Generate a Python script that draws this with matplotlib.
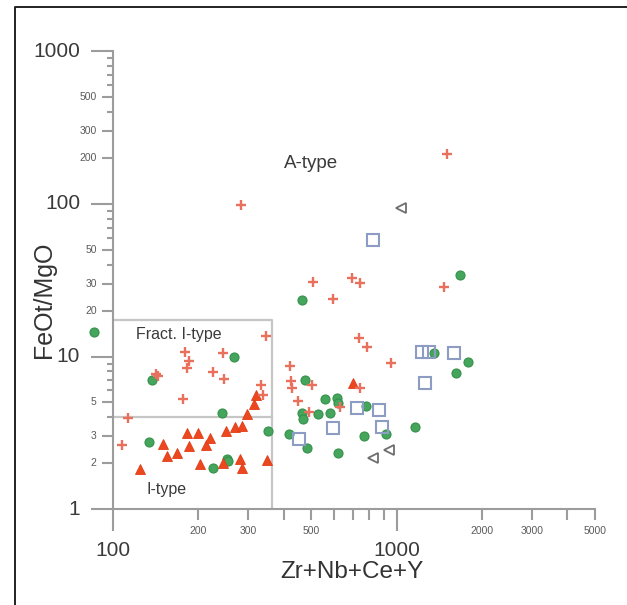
import matplotlib
matplotlib.use("Agg")
import matplotlib.pyplot as plt
from matplotlib.markers import TICKLEFT, TICKDOWN
from matplotlib.lines import Line2D
from matplotlib.ticker import NullLocator

plt.rcParams['font.family'] = ['Liberation Sans', 'DejaVu Sans']

# Zr+Nb+Ce+Y (ppm) vs FeOt/MgO, one pair of lists per sample group
cross_x = [347, 180, 186, 183, 245, 226, 247, 144, 142, 177, 333, 339, 113, 108,
           283, 1502, 509, 699, 746, 1466, 599, 740, 790, 422, 960, 426, 429, 505,
           451, 634, 493, 746]
cross_y = [13.7, 10.7, 9.4, 8.4, 10.6, 7.9, 7.1, 7.5, 7.7, 5.3, 6.5, 5.6, 3.96, 2.63,
           99, 211, 30.9, 32.9, 30.5, 28.7, 23.9, 13.3, 11.6, 8.7, 9.1, 6.9, 6.2, 6.5,
           5.1, 4.67, 4.34, 6.2]

green_x = [86, 268, 138, 243, 353, 134, 226, 253, 255,
           465, 1670, 419, 477, 465, 469, 530, 561, 619, 624, 585, 783, 915, 1158,
           765, 485, 624, 1351, 1782, 1616]
green_y = [14.5, 9.95, 7.0, 4.27, 3.25, 2.75, 1.86, 2.13, 2.07,
           23.6, 34.4, 3.11, 7.0, 4.27, 3.9, 4.21, 5.28, 5.36, 4.97, 4.27, 4.75, 3.11,
           3.46, 3.01, 2.52, 2.33, 10.6, 9.2, 7.8]

tri_x = [125, 150, 155, 168, 183, 200, 186, 203, 213, 220, 245, 251, 270, 286, 281,
         286, 298, 315, 320, 350, 705]
tri_y = [1.83, 2.67, 2.23, 2.33, 3.16, 3.16, 2.59, 1.97, 2.63, 2.93, 2.0, 3.25, 3.46,
         3.51, 2.13, 1.86, 4.21, 4.89, 5.6, 2.1, 6.7]

square_x = [829, 1226, 1297, 1590, 1256, 728, 871, 599, 892, 454]
square_y = [58.4, 10.7, 10.7, 10.6, 6.7, 4.6, 4.47, 3.4, 3.46, 2.88]

left_x = [1033, 829, 937]
left_y = [94.7, 2.16, 2.44]

# field boundaries
zr_limit = 365
fe_upper = 17.3
fe_lower = 4

fig = plt.figure(figsize=(6.27, 6.05), dpi=100)
ax = fig.add_axes([0.136, 0.106, 0.835, 0.838])
ax.set_xscale('log')
ax.set_yscale('log')
ax.set_xlim(80, 5600)
ax.set_ylim(0.62, 1300)

axis_col = '#9c9c9c'
for side in ['top', 'right']:
    ax.spines[side].set_visible(False)
ax.spines['left'].set_position(('data', 100))
ax.spines['bottom'].set_position(('data', 1))
ax.spines['left'].set_bounds(1, 1000)
ax.spines['bottom'].set_bounds(100, 5000)
for side in ['left', 'bottom']:
    ax.spines[side].set_color(axis_col)
    ax.spines[side].set_linewidth(1.5)
for axis in [ax.xaxis, ax.yaxis]:
    axis.set_major_locator(NullLocator())
    axis.set_minor_locator(NullLocator())

# ticks drawn as tick markers so three different lengths are possible
decades_y = [1, 10, 100]
y_major = [1, 10, 100, 1000]
y_minor_lab = [m * d for d in decades_y for m in (2, 3, 5)]
y_minor = [m * d for d in decades_y for m in (4, 6, 7, 8, 9)]
x_major = [100, 1000]
x_minor_lab = [200, 300, 500, 2000, 3000, 5000]
x_minor = [400, 600, 700, 800, 900, 4000]

tick_kw = dict(ls='none', color=axis_col, mew=1.5, clip_on=False)
ax.plot([100] * len(y_major), y_major, marker=TICKLEFT, ms=15.8, **tick_kw)
ax.plot([100] * len(y_minor_lab), y_minor_lab, marker=TICKLEFT, ms=7.9, **tick_kw)
ax.plot([100] * len(y_minor), y_minor, marker=TICKLEFT, ms=4.3, **tick_kw)
ax.plot(x_major, [1] * len(x_major), marker=TICKDOWN, ms=15.8, **tick_kw)
ax.plot(x_minor_lab + x_minor, [1] * (len(x_minor_lab) + len(x_minor)),
        marker=TICKDOWN, ms=7.9, **tick_kw)

for v in y_major:
    ax.annotate(str(v), (100, v), xytext=(-23.5, 0), textcoords='offset points',
                ha='right', va='center', fontsize=15, color='#3a3a3a')
for v in y_minor_lab:
    ax.annotate(str(v), (100, v), xytext=(-11.5, 0), textcoords='offset points',
                ha='right', va='center', fontsize=7.5, color='#5a5a5a')
for v in x_major:
    ax.annotate(str(v), (v, 1), xytext=(0, -23), textcoords='offset points',
                ha='center', va='top', fontsize=15, color='#3a3a3a')
for v in x_minor_lab:
    ax.annotate(str(v), (v, 1), xytext=(0, -12), textcoords='offset points',
                ha='center', va='top', fontsize=7.5, color='#5a5a5a')

# I-type / fractionated I-type fields
box_col = '#c6c6c6'
ax.plot([100, zr_limit, zr_limit], [fe_upper, fe_upper, 1], color=box_col, lw=1.6, zorder=1)
ax.plot([100, zr_limit], [fe_lower, fe_lower], color=box_col, lw=1.6, zorder=1)

ax.text(400, 185, 'A-type', fontsize=13.5, color='#3a3a3a', ha='left', va='center')
ax.text(121, 14.0, 'Fract. I-type', fontsize=11.5, color='#3a3a3a', ha='left', va='center')
ax.text(132, 1.35, 'I-type', fontsize=11.5, color='#3a3a3a', ha='left', va='center')

ax.plot(green_x, green_y, ls='none', marker='o', ms=6.5, mfc='#45a55c', mec='#34914b',
        mew=0.8, zorder=3, clip_on=False)
ax.plot(tri_x, tri_y, ls='none', marker='^', ms=7, mfc='#ec4820', mec='#e23c16',
        mew=0.6, zorder=4)
ax.plot(cross_x, cross_y, ls='none', marker='+', ms=7.5, mew=1.7, color='#e9705d',
        zorder=4)
ax.plot(square_x, square_y, ls='none', marker='s', ms=8, mfc='none', mec='#8d9cc2',
        mew=1.5, zorder=4)
ax.plot(left_x, left_y, ls='none', marker='<', ms=7, mfc='none', mec='#6e6e6e',
        mew=1.3, zorder=4)

fig.text(44 / 627, 1 - 300 / 605, 'FeOt/MgO', rotation=90, fontsize=18,
         color='#333333', ha='center', va='center')
fig.text(352 / 627, 1 - 572 / 605, 'Zr+Nb+Ce+Y', fontsize=17.5,
         color='#333333', ha='center', va='center')

# frame along the left and top of the figure
fig.add_artist(Line2D([0.024, 0.024, 1.0], [0.0, 0.988, 0.988],
                      transform=fig.transFigure, color='#222222', lw=1.4))

fig.savefig('out.png', dpi=100)
